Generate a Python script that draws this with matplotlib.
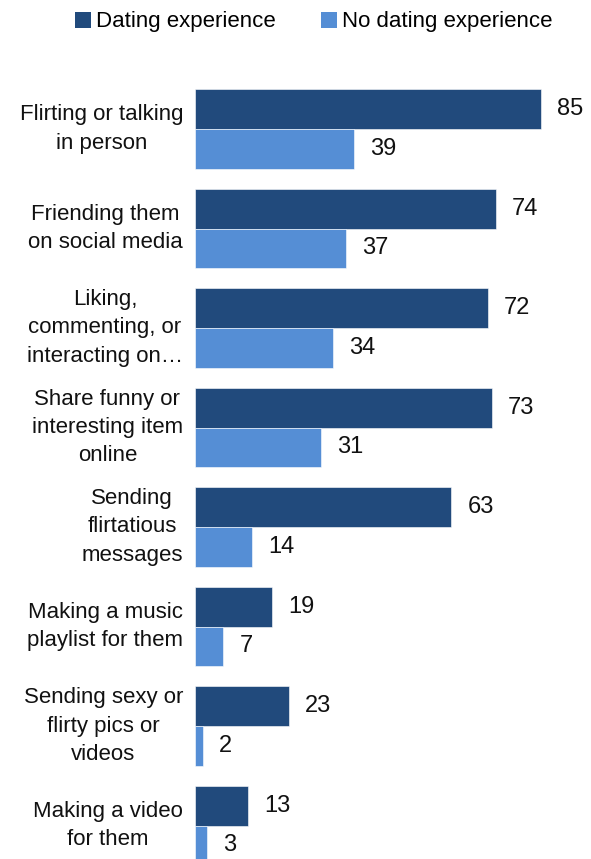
import matplotlib
matplotlib.use("Agg")
import matplotlib.pyplot as plt
from matplotlib.patches import Patch

categories = [
    "Flirting or talking\nin person",
    "Friending them\non social media",
    "Liking,\ncommenting, or\ninteracting on\u2026",
    "Share funny or\ninteresting item\nonline",
    "Sending\nflirtatious\nmessages",
    "Making a music\nplaylist for them",
    "Sending sexy or\nflirty pics or\nvideos",
    "Making a video\nfor them",
]
dating = [85, 74, 72, 73, 63, 19, 23, 13]
no_dating = [39, 37, 34, 31, 14, 7, 2, 3]
series_names = ["Dating experience", "No dating experience"]

dark = "#214A7C"
light = "#558ED5"

label_font = "Liberation Sans"
value_font = "Liberation Sans"

W, H = 591, 859
fig = plt.figure(figsize=(W / 100, H / 100), dpi=100)
ax_left, ax_right = 195, 591
ax_top, ax_bottom = 60, 859
ax = fig.add_axes([ax_left / W, (H - ax_bottom) / H, (ax_right - ax_left) / W, (ax_bottom - ax_top) / H])

px_per_unit_x = (541 - 195) / 85.0
xmax = (ax_right - ax_left) / px_per_unit_x
pitch = 99.5
ymax = 7 + (ax_bottom - 825.5) / pitch
ymin = -(129 - ax_top) / pitch

h = 0.397
y = list(range(len(categories)))
ax.barh([v - h / 2 for v in y], dating, height=h, color=dark, edgecolor="white", linewidth=0.4)
ax.barh([v + h / 2 for v in y], no_dating, height=h, color=light, edgecolor="white", linewidth=0.4)

off = 16 / px_per_unit_x
for i, (d, n) in enumerate(zip(dating, no_dating)):
    ax.text(d + off, i - h / 2, str(d), va="center", ha="left", fontsize=17, family=value_font, color="#111111")
    ax.text(n + off, i + h / 2, str(n), va="center", ha="left", fontsize=17, family=value_font, color="#111111")

lab_x = -12 / px_per_unit_x
for i, c in enumerate(categories):
    ax.text(lab_x, i, c, ha="right", va="center", multialignment="center", fontsize=16,
            family=label_font, color="#111111", linespacing=1.45, clip_on=False)

ax.set_xlim(0, xmax)
ax.set_ylim(ymax, ymin)
ax.axis("off")

handles = [Patch(facecolor=dark), Patch(facecolor=light)]
fig.legend(handles, series_names, loc="center", bbox_to_anchor=(0.531, 1 - 22 / H), ncol=2, frameon=False,
           prop={"family": label_font, "size": 16}, handlelength=0.72, handleheight=0.72, handletextpad=0.25,
           columnspacing=2.0)

fig.savefig("out.png", dpi=100)
